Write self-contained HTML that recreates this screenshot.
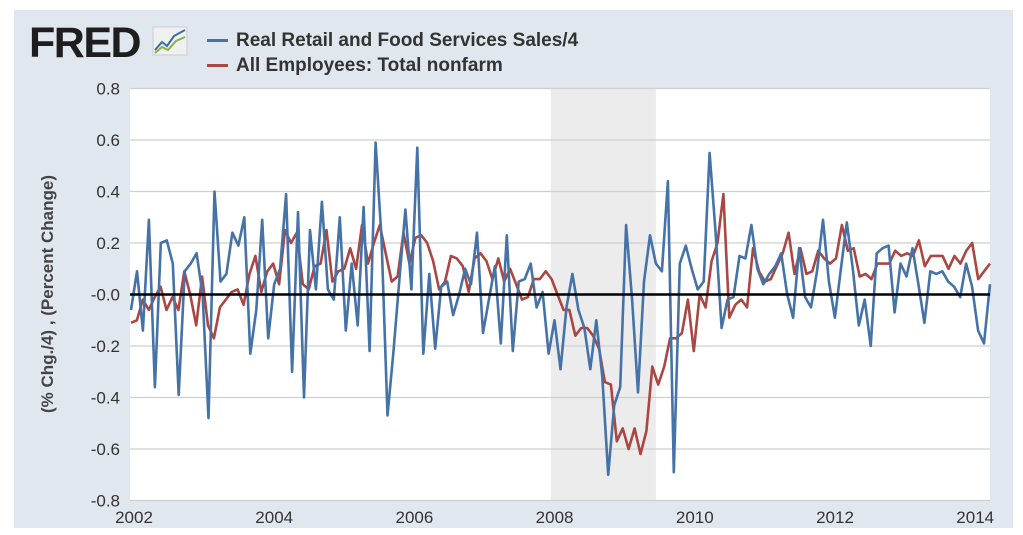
<!DOCTYPE html>
<html><head><meta charset="utf-8"><style>
body{margin:0;background:#fff;width:1023px;height:535px;overflow:hidden;font-family:"Liberation Sans",sans-serif}
#panel{position:absolute;left:14px;top:10px;width:999px;height:518px;background:#e1e7ef}
.logo{position:absolute;left:29px;top:19px;font-weight:bold;font-size:43px;letter-spacing:-1.5px;color:#1e1e1e;font-family:"Liberation Sans",sans-serif}
.leg{position:absolute;left:207px;font-weight:bold;font-size:19px;color:#333}
.leg span{display:inline-block;width:21px;height:3px;vertical-align:middle;margin-right:8px}
</style></head><body>
<div id="panel"></div>
<div class="logo">FRED</div>
<svg style="position:absolute;left:152px;top:26px" width="36" height="30"><rect x="1" y="1" width="34" height="28" fill="#eef1ee" stroke="#ccc"/><polyline points="3,24 10,16 15,20 22,10 33,4" fill="none" stroke="#3a6ea5" stroke-width="2"/><polyline points="3,27 10,21 16,24 24,15 33,11" fill="none" stroke="#8ab04a" stroke-width="2"/></svg>
<div class="leg" style="top:30px"><span style="background:#4572a7"></span>Real Retail and Food Services Sales/4</div>
<div class="leg" style="top:55px"><span style="background:#aa4643"></span>All Employees: Total nonfarm</div>
<svg id="chart" style="position:absolute;left:0;top:0" width="1023" height="535"></svg>
<script>
const yTicks=[0.8,0.6,0.4,0.2,0.0,-0.2,-0.4,-0.6,-0.8];
const yTickLabels=["0.8","0.6","0.4","0.2","-0.0","-0.2","-0.4","-0.6","-0.8"];
const xTickYears=[2002,2004,2006,2008,2010,2012,2014];
const recession=[2007+11/12,2009+5/12];
const retail=[-.06,.09,-.14,.29,-.36,.2,.21,.12,-.39,.09,.12,.16,0,-.48,.4,.05,.08,.24,.19,.3,-.23,-.06,.29,-.17,.04,.1,.39,-.3,.32,-.4,.25,.02,.36,.02,-.02,.3,-.14,.12,-.12,.34,-.22,.59,.22,-.47,-.22,.06,.33,.02,.57,-.23,
.08,-.21,.03,.05,-.08,0,.1,.04,.24,-.15,-.02,.11,-.19,.23,-.22,.05,.06,.12,-.05,.01,-.23,-.1,-.29,-.05,.08,-.06,-.13,-.29,-.1,-.32,-.7,-.43,-.36,.27,-.02,-.38,.05,.23,.12,.09,.44,-.69,.12,.19,.1,.02,.05,
.55,.24,-.13,-.02,-.01,.15,.14,.27,.1,.04,.08,.11,.16,0,-.09,.18,-.01,-.05,.09,.29,.05,-.09,.1,.28,.1,-.12,-.02,-.2,.16,.18,.19,-.07,.12,.07,.18,.04,-.11,.09,.08,.09,.05,.03,-.01,.12,.03,-.14,-.19,.04];
const nonfarm=[-.11,-.1,-.02,-.06,-.01,.03,-.06,-.01,-.06,.09,0,-.12,.07,-.12,-.17,-.05,-.02,.01,.02,-.04,.08,.15,.01,.09,.12,.04,.25,.2,.24,.04,.02,.11,.12,.25,.05,.09,.1,.18,.1,.27,.12,.2,.27,.16,.05,.07,.24,.12,.22,.23,
.2,.13,.02,.05,.15,.14,.11,.01,.14,.16,.13,.06,.14,.05,.1,.04,-.02,-.01,.06,.06,.09,.06,0,-.06,-.06,-.16,-.13,-.13,-.16,-.21,-.34,-.35,-.57,-.52,-.6,-.52,-.62,-.53,-.28,-.35,-.28,-.17,-.17,-.15,-.02,-.22,0,-.05,
.13,.2,.39,-.09,-.04,-.02,-.05,.18,.09,.05,.06,.11,.16,.24,.08,.18,.08,.09,.17,.14,.12,.14,.27,.17,.18,.07,.08,.06,.12,.12,.12,.17,.15,.16,.15,.21,.11,.15,.15,.15,.1,.15,.12,.17,.2,.06,.09,.12];
const NS='http://www.w3.org/2000/svg';
const svg=document.getElementById('chart');
const L=130,R=990,T=88,B=500;
const X0=2002,PX=70.1;
function xYear(yr){return 134+(yr-X0)*PX;}
function xIdx(i,n){return 131+i*(R-131)/(n-1);}
function yv(v){return 294.5-v*257.5;}
function el(t,a,p){const e=document.createElementNS(NS,t);for(const k in a)e.setAttribute(k,a[k]);(p||svg).appendChild(e);return e;}
const bg=el('rect',{x:L,y:T,width:R-L,height:B-T,fill:'#fff'});


const rec=el('rect',{x:xYear(recession[0])+2,y:T,width:xYear(recession[1])-xYear(recession[0]),height:B-T,fill:'#ececec'});


yTicks.forEach((v,i)=>{
  const g=el('line',{x1:L,x2:R,y1:yv(v),y2:yv(v),stroke:'#cfcfcf','stroke-width':1.2});
  
  
  const t=el('text',{x:120,y:yv(v)+6,'text-anchor':'end','font-size':17,fill:'#333','font-family':'Liberation Sans'});
  t.textContent=yTickLabels[i];
  
  
});
xTickYears.forEach(yr=>{
  const t=el('text',{x:xYear(yr),y:523,'text-anchor':'middle','font-size':17,fill:'#333','font-family':'Liberation Sans'});
  t.textContent=yr;
  
  
});
const yt=el('text',{x:0,y:0,transform:'translate(53,294) rotate(-90)','text-anchor':'middle','font-size':17,'font-weight':'bold',fill:'#444','font-family':'Liberation Sans'});
yt.textContent='(% Chg./4) , (Percent Change)';


function line(arr,color,name){
  const n=arr.length;
  const p=el('polyline',{points:arr.map((v,i)=>xIdx(i,n).toFixed(1)+','+yv(v).toFixed(1)).join(' '),fill:'none',stroke:color,'stroke-width':2.6,'stroke-linejoin':'round'});
  
  
}
line(nonfarm,'#aa4643','series-nonfarm');
line(retail,'#4572a7','series-retail');
const z=el('line',{x1:L,x2:R,y1:yv(0),y2:yv(0),stroke:'#000','stroke-width':2.5});


</script>
</body></html>
